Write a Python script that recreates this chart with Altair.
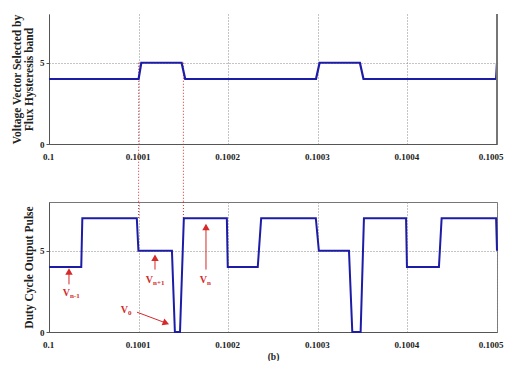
import altair as alt
import pandas as pd

# ---------------- data ----------------
x_ticks = [0.1, 0.1001, 0.1002, 0.1003, 0.1004, 0.1005]
y_ticks = [0, 5]

top_t = [0.1, 0.100100, 0.100103, 0.100148, 0.100152, 0.100298, 0.100302,
         0.100347, 0.100351, 0.100499, 0.1005]
top_v = [4, 4, 5, 5, 4, 4, 5, 5, 4, 4, 5]

bot_t = [0.1, 0.1000360, 0.1000372, 0.1000980, 0.1000998, 0.1001372, 0.1001405,
         0.1001462, 0.1001505, 0.1001985, 0.1001995, 0.1002330, 0.1002368,
         0.1002978, 0.1003012, 0.1003348, 0.1003385, 0.1003478, 0.1003515,
         0.1003985, 0.1003995, 0.1004352, 0.1004382, 0.1004990, 0.1005]
bot_v = [4, 4, 7, 7, 5, 5, 0, 0, 7, 7, 4, 4, 7, 7, 5, 5, 0, 0, 7, 7, 4, 4, 7, 7, 5]

marker_x = [0.1001, 0.10015]
marker_top_y = [5, 5]
marker_top_y2 = [-3.55, -3.55]
marker_bot_y = [8, 8]
marker_bot_y2 = [7, 7]

ann_x = [0.1000223, 0.1001150, 0.1000870, 0.1001752]
ann_y = [2.38, 3.17, 1.34, 3.23]
ann_main = ["V", "V", "V", "V"]
ann_sub = ["n-1", "n+1", "0", "n"]

arr_x1 = [0.1000223, 0.1001183, 0.1000982, 0.1001752]
arr_y1 = [2.93, 3.84, 1.22, 3.84]
arr_x2 = [0.1000223, 0.1001183, 0.1001306, 0.1001752]
arr_y2 = [3.72, 4.57, 0.55, 6.46]
arr_angle = [0, 0, 111, 0]

# ---------------- tables ----------------
top_df = pd.DataFrame({"t": top_t, "v": top_v})
bot_df = pd.DataFrame({"t": bot_t, "v": bot_v})
mk_top = pd.DataFrame({"x": marker_x, "y": marker_top_y, "y2": marker_top_y2})
mk_bot = pd.DataFrame({"x": marker_x, "y": marker_bot_y, "y2": marker_bot_y2})
ann_df = pd.DataFrame({"x": ann_x, "y": ann_y, "m": ann_main, "s": ann_sub})
arr_df = pd.DataFrame({"x1": arr_x1, "y1": arr_y1, "x2": arr_x2, "y2": arr_y2, "a": arr_angle})

FONT = "Liberation Serif"
BLUE = "#1c1ca6"
RED = "#d42a2a"
W, H = 448, 130

xscale = alt.Scale(domain=[0.1, 0.1005], nice=False, zero=False)
yscale = alt.Scale(domain=[0, 8], nice=False)

LAST = "datum.value > 0.10049"


def x_axis(title=None):
    kw = dict(values=x_ticks, format=".4~f", grid=True, gridDash=[1, 2],
              gridColor="#888", ticks=False, labelFont=FONT, labelFontWeight="bold",
              labelFontSize=9, labelColor="#222", labelPadding=8,
              domainColor="#555", labelFlush=False,
              labelAlign={"condition": {"test": LAST, "value": "right"}, "value": "center"},
              labelOffset={"condition": {"test": LAST, "value": 6}, "value": -1})
    if title:
        kw.update(title=title, titleFont=FONT, titleFontWeight="bold",
                  titleFontSize=9.5, titleColor="#222", titlePadding=2)
    else:
        kw.update(title=None)
    return alt.Axis(**kw)


def y_axis(title):
    return alt.Axis(values=y_ticks, grid=True, gridDash=[1, 2], gridColor="#888",
                    tickSize=3, tickColor="#555", labelFont=FONT,
                    labelFontWeight="bold", labelFontSize=9, labelColor="#222",
                    labelPadding=2, domainColor="#555", title=title,
                    titleFont=FONT, titleFontWeight="bold", titleFontSize=11.5,
                    titleColor="#222", titlePadding=5, titleLineHeight=12)


# ---------------- top panel ----------------
top_line = alt.Chart(top_df).mark_line(color=BLUE, strokeWidth=2.2).encode(
    x=alt.X("t:Q", scale=xscale, axis=x_axis()),
    y=alt.Y("v:Q", scale=yscale,
            axis=y_axis(["Voltage Vector Selected by", "Flux Hysteresis band"])),
)
top_border = alt.Chart(top_df).mark_rule(color="#777", strokeWidth=1).encode(
    x=alt.datum(0.1005), y=alt.datum(0), y2=alt.datum(8)
)
top_mark = alt.Chart(mk_top).mark_rule(color=RED, strokeDash=[1, 2], strokeWidth=1).encode(
    x="x:Q", y="y:Q", y2="y2:Q"
)
top = alt.layer(top_mark, top_line, top_border).properties(
    width=W, height=H, view=alt.ViewBackground(stroke="transparent")
)

# ---------------- bottom panel ----------------
bot_line = alt.Chart(bot_df).mark_line(color=BLUE, strokeWidth=2).encode(
    x=alt.X("t:Q", scale=xscale, axis=x_axis("(b)")),
    y=alt.Y("v:Q", scale=yscale, axis=y_axis("Duty Cycle Output Pulse")),
)
bot_mark = alt.Chart(mk_bot).mark_rule(color=RED, strokeDash=[1, 2], strokeWidth=1).encode(
    x="x:Q", y="y:Q", y2="y2:Q"
)
arr_line = alt.Chart(arr_df).mark_rule(color=RED, strokeWidth=1).encode(
    x="x1:Q", y="y1:Q", x2="x2:Q", y2="y2:Q"
)
arr_head = alt.Chart(arr_df).mark_point(
    shape="triangle-up", filled=True, color=RED, size=55, opacity=1
).encode(x="x2:Q", y="y2:Q", angle=alt.Angle("a:Q", scale=None))
ann_main_t = alt.Chart(ann_df).mark_text(
    color=RED, font=FONT, fontSize=10, fontWeight="bold", align="right", dx=1
).encode(x="x:Q", y="y:Q", text="m:N")
ann_sub_t = alt.Chart(ann_df).mark_text(
    color=RED, font=FONT, fontSize=7, fontWeight="bold", align="left", dx=1, dy=3
).encode(x="x:Q", y="y:Q", text="s:N")

bot = alt.layer(bot_mark, bot_line, arr_line, arr_head, ann_main_t, ann_sub_t).properties(
    width=W, height=H, view=alt.ViewBackground(stroke="#777")
)

chart = alt.vconcat(top, bot, spacing=58, bounds="flush").properties(
    padding={"left": 2, "top": 5, "right": 2, "bottom": 0}
).configure(background="white")

chart.save("out.html", embed_options={"renderer": "svg", "actions": False})
